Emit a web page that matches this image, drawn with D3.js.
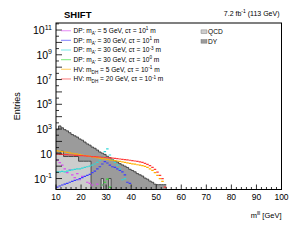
<!DOCTYPE html>
<html><head><meta charset="utf-8">
<script src="https://cdn.jsdelivr.net/npm/d3@7"></script>
<style>body{margin:0;background:#fff}svg{display:block;font-family:"Liberation Sans",Arial,sans-serif}</style>
</head><body><svg id="c" width="293" height="240"></svg>
<script>
// ---- data: 1 GeV bins starting at 10 GeV ----
const binStart = 10;
const binWidth = 1;
const qcd = [12,12,16,6,6,6,6,6,6,2.5,2.5,2.5,2.5,2.5,0,0,0,0,0.1,0,0,0.1,0,0,0,0,0,0,0,0,0,0,0,0,0,0,0,0,0,0,0,0,0,0];
const dy  = [879,1766,1243,885,702,495,349,276,218,155.5,123.5,86.5,60.5,47.5,35,28,20,14,11.1,8.9,6.3,4.9,3.5,2.8,2.2,1.6,1.26,1.0,0.79,0.56,0.45,0.35,0.25,0.2,0.16,0.11,0.089,0.063,0.05,0.035,0.032,0.032,0.032,0.032];
const sigDP5_1   = [3.1,1.9,1.2,0.6,0.3,0.5,0.2,0.12,0.25,0.08,0.15,null,0.05,0.04,0.03,null,0.036,null,0.03,null,null,null,null,null,null,null,null,null,null,null,null,null,null,null,null,null,null,null,null,null,null,null,null,null];
const sigDP30_1  = [0.02,0.025,0.03,0.035,0.04,0.05,0.06,0.07,0.08,0.1,0.12,0.15,0.18,0.22,0.3,0.4,0.6,0.9,1.5,2.3,1.8,1.2,0.9,0.8,0.6,0.45,0.35,0.2,0.05,0.04,null,null,null,null,null,null,null,null,null,null,null,null,null,null];
const sigDP30_m3 = [0.35,0.35,0.38,0.35,0.4,0.45,0.5,0.55,0.6,0.6,0.7,0.8,0.9,1.0,1.2,1.5,2.0,3.0,6,15,25,8,3.2,2,1.2,0.6,0.08,0.1,null,null,null,null,null,null,null,null,null,null,null,null,null,null,null,null];
const sigDP30_0  = [null,null,null,null,null,null,null,null,null,null,null,null,null,null,null,null,null,null,0.03,0.05,0.09,0.02,null,null,null,null,null,null,null,null,null,null,null,null,null,null,null,null,null,null,null,null,null,null];
const sigHV5     = [17,16,15,14,13,12,11,10,9.3,8.6,8,7.3,6.7,6.2,5.7,5.3,4.9,4.5,4.1,3.8,3.5,3.2,3.0,2.8,2.6,2.4,2.2,2.0,1.85,1.7,1.55,1.45,1.3,1.2,1.1,0.95,0.8,0.6,0.45,0.3,0.18,0.1,0.06,null];
const sigHV20    = [9.5,9,9,8.5,8.5,8,8,7.5,7.5,7,7,6.8,6.5,6.3,6,6,5.7,5.5,5.3,5,4.8,4.6,4.4,4.2,4,3.8,3.6,3.4,3.2,3,2.8,2.6,2.4,2.2,2.0,1.7,1.4,1.1,0.8,0.55,0.33,0.18,0.1,0.02];
const xTicks = [10,20,30,40,50,60,70,80,90,100];
const yTickExps = [11,9,7,5,3,1,-1];

const signals = [
  {vals: sigDP5_1,   color:"#d94ef0", label:[["DP: m"],["A'","sub"],[" = 5 GeV, cτ = 10"],["1","sup"],[" m"]]},
  {vals: sigDP30_1,  color:"#3a3aff", label:[["DP: m"],["A'","sub"],[" = 30 GeV, cτ = 10"],["1","sup"],[" m"]]},
  {vals: sigDP30_m3, color:"#2fd8d8", label:[["DP: m"],["A'","sub"],[" = 30 GeV, cτ = 10"],["-3","sup"],[" m"]]},
  {vals: sigDP30_0,  color:"#30e030", label:[["DP: m"],["A'","sub"],[" = 30 GeV, cτ = 10"],["0","sup"],[" m"]]},
  {vals: sigHV5,     color:"#ffb000", label:[["HV: m"],["DH","sub"],[" = 5 GeV, cτ = 10"],["-1","sup"],[" m"]]},
  {vals: sigHV20,    color:"#ff3a3a", label:[["HV: m"],["DH","sub"],[" = 20 GeV, cτ = 10"],["-1","sup"],[" m"]]},
];

// ---- layout ----
const L = 56, R = 281.5, T = 23, B = 189.5;
const yMin = 0.013, yMax = 3.7e11;
const x = d3.scaleLinear([10,100],[L,R]);
const y = d3.scaleLog([yMin,yMax],[B,T]).clamp(true);
const yv = v => (v==null || v<=0) ? B : y(v);

const svg = d3.select("#c");
const clip = svg.append("defs").append("clipPath").attr("id","pc");
clip.append("rect").attr("x",L).attr("y",T).attr("width",R-L).attr("height",B-T);
const g = svg.append("g").attr("clip-path","url(#pc)");

// stack
const n = dy.length;
const edges = d3.range(n+1).map(i => binStart + i*binWidth);
const qTop = qcd.slice();
const dTop = qcd.map((q,i)=>q+dy[i]);
function stepPts(arr){ const p = arr.map((v,i)=>[edges[i],v]); p.push([edges[n],arr[n-1]]); return p; }
const area = (top,bot) => d3.area().curve(d3.curveStepAfter)
  .x(d=>x(d[0])).y1(d=>yv(d[1])).y0((d,i)=>bot?yv(bot[Math.min(i,n-1)]):B);
const line = d3.line().curve(d3.curveStepAfter).x(d=>x(d[0])).y(d=>yv(d[1]));

g.append("path").datum(stepPts(dTop)).attr("d",area(dTop,qTop)).attr("fill","#9b9b9b");
g.append("path").datum(stepPts(qTop)).attr("d",area(qTop,null)).attr("fill","#cdcdcd");
g.append("path").datum(stepPts(dTop)).attr("d",line).attr("fill","none").attr("stroke","#3a3a3a").attr("stroke-width",0.9);
g.append("path").datum(stepPts(qTop)).attr("d",line).attr("fill","none").attr("stroke","#3a3a3a").attr("stroke-width",0.9);

// signals as horizontal bin segments
signals.forEach(s=>{
  g.append("g").selectAll("line").data(s.vals.map((v,i)=>({v,i})).filter(d=>d.v!=null && d.v>0))
   .join("line")
   .attr("x1",d=>x(edges[d.i])).attr("x2",d=>x(edges[d.i+1]))
   .attr("y1",d=>y(d.v)).attr("y2",d=>y(d.v))
   .attr("stroke",s.color).attr("stroke-width",1.2);
});

// frame
svg.append("rect").attr("x",L).attr("y",T).attr("width",R-L).attr("height",B-T)
  .attr("fill","none").attr("stroke","#000").attr("stroke-width",1);

// x ticks
const ax = svg.append("g");
d3.range(10,101,2).forEach(v=>{
  const major = v%10===0;
  ax.append("line").attr("x1",x(v)).attr("x2",x(v)).attr("y1",B).attr("y2",B-(major?5:2.5)).attr("stroke","#000").attr("stroke-width",0.8);
});
ax.selectAll("text.xt").data(xTicks).join("text").attr("class","xt")
  .attr("x",d=>x(d)).attr("y",B+10).attr("text-anchor","middle").attr("font-size",8.5).text(d=>d);

// y ticks
for(let e=-1;e<=11;e++){
  svg.append("line").attr("x1",L).attr("x2",L+6).attr("y1",y(10**e)).attr("y2",y(10**e)).attr("stroke","#000").attr("stroke-width",0.8);
  svg.append("line").attr("x1",L).attr("x2",L+3).attr("y1",y(10**(e+0.5))).attr("y2",y(10**(e+0.5))).attr("stroke","#000").attr("stroke-width",0.8);
}
yTickExps.forEach(e=>{
  const t = svg.append("text").attr("x",L-4).attr("y",y(10**e)+4).attr("text-anchor","end").attr("font-size",10.5);
  if(e===1){ t.text("10"); }
  else { t.append("tspan").text("10"); t.append("tspan").attr("dy",-4.5).attr("font-size",7).text(e); }
});

// axis titles
svg.append("text").attr("transform",`translate(20,${(T+B)/2}) rotate(-90)`).attr("text-anchor","middle").attr("font-size",9).text("Entries");
const xt = svg.append("text").attr("x",R).attr("y",B+28).attr("text-anchor","end").attr("font-size",7.5);
xt.append("tspan").text("m");
xt.append("tspan").attr("dy",-3).attr("font-size",5).text("lll");
xt.append("tspan").attr("dy",3).text(" [GeV]");

// header
svg.append("text").attr("x",64).attr("y",17.5).attr("font-size",9.5).attr("font-weight","bold").text("SHIFT");
const lu = svg.append("text").attr("x",279.5).attr("y",16).attr("text-anchor","end").attr("font-size",7);
lu.append("tspan").text("7.2 fb");
lu.append("tspan").attr("dy",-3).attr("font-size",5).text("-1");
lu.append("tspan").attr("dy",3).text(" (113 GeV)");

// legend
signals.forEach((s,i)=>{
  const cy = 30.7 + i*9.65;
  svg.append("line").attr("x1",61).attr("x2",71).attr("y1",cy).attr("y2",cy).attr("stroke",s.color).attr("stroke-opacity",0.55).attr("stroke-width",1.2);
  const t = svg.append("text").attr("x",73.5).attr("y",cy+2.4).attr("font-size",6.6);
  let shift = 0;
  s.label.forEach(([str,kind])=>{
    const sp = t.append("tspan").text(str);
    let target = kind==="sub"?1.8:kind==="sup"?-2.8:0;
    sp.attr("dy",target-shift); shift = target;
    if(kind) sp.attr("font-size",4.6);
  });
});
[["QCD","#cdcdcd"],["DY","#9b9b9b"]].forEach(([lab,col],i)=>{
  const cy = 31.7 + i*9.65;
  svg.append("rect").attr("x",201).attr("y",cy-1.8).attr("width",6).attr("height",3.6).attr("fill",col).attr("stroke","#666").attr("stroke-width",0.4);
  svg.append("text").attr("x",208).attr("y",cy+2.4).attr("font-size",6.6).text(lab);
});
</script></body></html>
